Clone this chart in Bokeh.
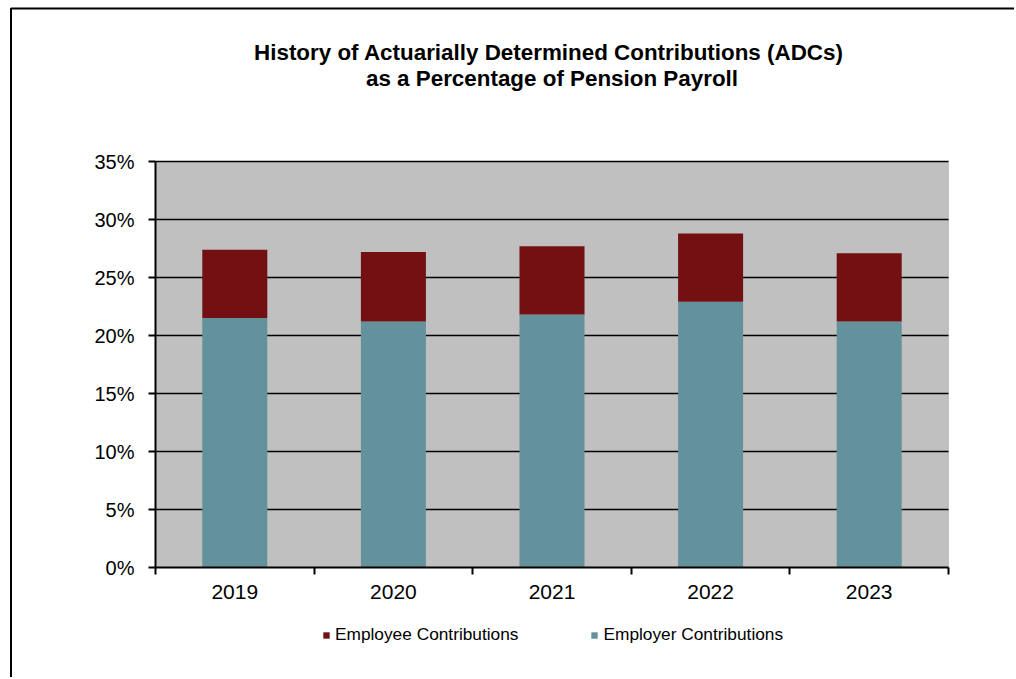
from bokeh.plotting import figure
from bokeh.models import (ColumnDataSource, Range1d, FixedTicker, NumeralTickFormatter,
                          Legend, LegendItem, Label, BoxAnnotation)
from bokeh.embed import file_html
from bokeh.resources import INLINE

years = ["2019", "2020", "2021", "2022", "2023"]
employer = [21.5, 21.2, 21.8, 22.9, 21.2]
employee = [5.9, 6.0, 5.9, 5.9, 5.9]
y_ticks = [0, 5, 10, 15, 20, 25, 30, 35]
title_lines = ["History of  Actuarially Determined Contributions (ADCs)",
               "as a Percentage of Pension Payroll"]

n = len(years)
x = [i + 0.5 for i in range(n)]
ymax = y_ticks[-1] / 100
src = ColumnDataSource(dict(
    x=x,
    employer=[v / 100 for v in employer],
    employee=[v / 100 for v in employee],
))

FONT = "Liberation Sans"

# ---- layout (pixels) ----
W, H = 1014, 677
PLOT_L, PLOT_R, PLOT_T, PLOT_B = 155, 948, 161, 567
SX = (PLOT_R - PLOT_L) / n
SY = (PLOT_B - PLOT_T) / ymax


def xd(px):
    return (px - PLOT_L) / SX


def yd(py):
    return (PLOT_B - py) / SY


p = figure(width=W, height=H, output_backend="svg", toolbar_location=None,
           x_range=Range1d(xd(0), xd(W)), y_range=Range1d(yd(H), yd(0)),
           min_border=0, background_fill_color="white", border_fill_color="white")
p.title = None
p.outline_line_color = None
p.xgrid.visible = False
p.ygrid.visible = False

# plot area background
p.add_layout(BoxAnnotation(left=0, right=n, bottom=0, top=ymax, fill_color="#C0C0C0",
                           fill_alpha=1, line_color="#808080", line_width=1,
                           level="underlay"))

# grid lines
gt = [t / 100 for t in y_ticks[1:]]
p.segment(x0=[0] * len(gt), x1=[n] * len(gt), y0=gt, y1=gt,
          line_color="black", line_width=1.5)

rs = p.vbar_stack(["employer", "employee"], x="x", width=0.41, source=src,
                  color=["#63929D", "#731112"], line_color=None)

# outer chart border (left & top edges of the chart box)
p.line(x=[xd(10.5), xd(10.5), xd(W + 10)], y=[yd(H + 10), yd(8), yd(8)],
       line_color="black", line_width=2)

# titles
for txt, py in zip(title_lines, [52, 78]):
    p.add_layout(Label(x=n / 2, y=yd(py), text=txt, text_align="center",
                       text_baseline="middle", text_font=FONT, text_font_style="bold",
                       text_font_size="22.4px", text_color="black"))

# x axis
xa = p.xaxis[0]
xa.fixed_location = 0
xa.bounds = (0, n)
xa.ticker = FixedTicker(ticks=x, minor_ticks=list(range(n + 1)))
xa.major_label_overrides = {xx: yv for xx, yv in zip(x, years)}
xa.major_tick_out = 0
xa.major_tick_in = 0
xa.minor_tick_out = 7
xa.minor_tick_in = 0
xa.minor_tick_line_color = "black"
xa.minor_tick_line_width = 2
xa.axis_line_color = "black"
xa.axis_line_width = 2
xa.major_label_standoff = 10
xa.major_label_text_font = FONT
xa.major_label_text_font_size = "21px"
xa.major_label_text_color = "black"

# y axis
ya = p.yaxis[0]
ya.fixed_location = 0
ya.bounds = (0, ymax)
ya.ticker = FixedTicker(ticks=[t / 100 for t in y_ticks])
ya.formatter = NumeralTickFormatter(format="0%")
ya.major_tick_out = 7
ya.major_tick_in = 0
ya.minor_tick_line_color = None
ya.major_tick_line_color = "black"
ya.major_tick_line_width = 2
ya.axis_line_color = "black"
ya.axis_line_width = 2
ya.major_label_standoff = 14
ya.major_label_text_font = FONT
ya.major_label_text_font_size = "20px"
ya.major_label_text_color = "black"

legend = Legend(items=[LegendItem(label="Employee Contributions", renderers=[rs[1]]),
                       LegendItem(label="Employer Contributions", renderers=[rs[0]])],
                orientation="horizontal", location=(322, H - 645),
                glyph_width=8, glyph_height=8, label_standoff=5, spacing=72,
                label_text_font=FONT, label_text_font_size="17.3px",
                label_text_color="black", border_line_color=None,
                background_fill_alpha=0, margin=0, padding=4)
p.add_layout(legend, "center")

open("out.html", "w").write(file_html(p, INLINE))
